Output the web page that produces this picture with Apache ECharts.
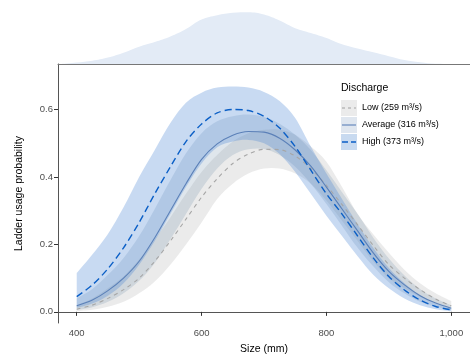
<!DOCTYPE html>
<html><head><meta charset="utf-8">
<script src="https://cdn.jsdelivr.net/npm/echarts@6/dist/echarts.min.js"></script>
<style>html,body{margin:0;padding:0;background:#fff}#c{width:470px;height:360px}</style>
</head><body><div id="c"></div>
<script>
// ---- data ----
const sizes = [400,425,450,475,500,525,550,575,600,625,650,675,700,725,750,775,800,825,850,875,900,925,950,975,1000];
const lowMean  = [0.008,0.02,0.04,0.066,0.1,0.15,0.21,0.275,0.34,0.395,0.44,0.468,0.482,0.481,0.462,0.425,0.375,0.318,0.258,0.197,0.14,0.1,0.066,0.038,0.018];
const lowLower = [0.002,0.006,0.015,0.03,0.055,0.09,0.14,0.2,0.265,0.335,0.38,0.41,0.425,0.425,0.41,0.38,0.33,0.27,0.21,0.15,0.1,0.07,0.045,0.025,0.01];
const lowUpper = [0.02,0.04,0.07,0.105,0.155,0.215,0.28,0.35,0.415,0.465,0.505,0.53,0.54,0.54,0.525,0.49,0.445,0.37,0.29,0.23,0.175,0.125,0.085,0.055,0.032];
const avgMean  = [0.018,0.035,0.063,0.1,0.15,0.22,0.3,0.38,0.452,0.498,0.524,0.535,0.533,0.515,0.48,0.432,0.37,0.305,0.24,0.175,0.12,0.08,0.048,0.026,0.011];
const avgLower = [0.006,0.014,0.03,0.055,0.092,0.145,0.215,0.29,0.365,0.425,0.465,0.482,0.483,0.465,0.43,0.38,0.32,0.255,0.19,0.135,0.088,0.055,0.03,0.015,0.005];
const avgUpper = [0.04,0.068,0.11,0.16,0.225,0.305,0.39,0.47,0.53,0.565,0.58,0.585,0.578,0.558,0.525,0.48,0.42,0.355,0.29,0.22,0.158,0.108,0.068,0.04,0.02];
const highMean = [0.045,0.08,0.128,0.19,0.265,0.35,0.43,0.505,0.557,0.59,0.6,0.597,0.58,0.545,0.49,0.42,0.35,0.29,0.225,0.16,0.105,0.065,0.035,0.016,0.006];
const highLower= [0.012,0.025,0.048,0.085,0.14,0.21,0.29,0.37,0.44,0.488,0.505,0.51,0.5,0.468,0.415,0.35,0.285,0.225,0.165,0.11,0.07,0.04,0.02,0.008,0.002];
const highUpper= [0.115,0.17,0.231,0.31,0.4,0.48,0.56,0.62,0.65,0.665,0.668,0.665,0.652,0.625,0.575,0.49,0.41,0.335,0.26,0.19,0.13,0.085,0.05,0.025,0.01];
const densX = [375,400,425,450,475,500,525,550,575,600,625,650,675,700,725,750,775,800,825,850,875,900,925,950,975,1000];
const densY = [0,1.5,3.3,6.5,11.3,17.3,22,27.5,35,44.5,48.8,51.3,51.8,49.5,43.5,35.8,31,26,19.8,15.6,11.7,7.8,4,1.8,0.2,0];
const xTicks = [400,600,800,1000];
const yTicks = [0,0.2,0.4,0.6];
const legendTitle = 'Discharge';
const legendLabels = ['Low (259 m³/s)','Average (316 m³/s)','High (373 m³/s)'];

// ---- styles ----
const FONT = 'Liberation Sans';
const lowCol = '#a6a6a6', avgCol = '#5b80b8', highCol = '#0b5fc6';
const pairs = arr => sizes.map((s,i)=>[s,arr[i]]);

// Catmull-Rom -> cubic bezier path through screen points
function curvePath(pts, moveFirst){
  let d = (moveFirst ? 'M' : 'L') + pts[0][0].toFixed(2) + ' ' + pts[0][1].toFixed(2);
  for (let i=0;i<pts.length-1;i++){
    const p0 = pts[i>0?i-1:i], p1 = pts[i], p2 = pts[i+1], p3 = pts[i+2<pts.length?i+2:i+1];
    const c1 = [p1[0]+(p2[0]-p0[0])/6, p1[1]+(p2[1]-p0[1])/6];
    const c2 = [p2[0]-(p3[0]-p1[0])/6, p2[1]-(p3[1]-p1[1])/6];
    d += ' C' + c1[0].toFixed(2)+' '+c1[1].toFixed(2)+' '+c2[0].toFixed(2)+' '+c2[1].toFixed(2)+' '+p2[0].toFixed(2)+' '+p2[1].toFixed(2);
  }
  return d;
}

function band(lower, upper, color, opacity){
  return {
    type:'custom', silent:true, xAxisIndex:0, yAxisIndex:0,
    data: sizes.map((s,i)=>[s, lower[i], upper[i]]),
    encode:{x:0, y:[1,2]},
    renderItem:function(params, api){
      if (params.dataIndex !== 0) return null;
      const up = sizes.map((s,i)=>api.coord([s, upper[i]]));
      const lo = sizes.map((s,i)=>api.coord([s, lower[i]])).reverse();
      const d = curvePath(up, true) + ' ' + curvePath(lo, false) + ' Z';
      return {type:'path', shape:{pathData:d}, style:{fill:color, opacity:opacity}};
    }
  };
}

const series = [
  band(lowLower, lowUpper, '#bcbcbc', 0.3),
  band(avgLower, avgUpper, '#60819f', 0.2),
  band(highLower, highUpper, '#4a86d4', 0.3),
  {type:'line', data:pairs(lowMean), smooth:0.3, symbol:'none', lineStyle:{color:lowCol, width:1.1, type:[4,4]}},
  {type:'line', data:pairs(avgMean), smooth:0.3, symbol:'none', lineStyle:{color:avgCol, width:1.1}},
  {type:'line', data:pairs(highMean), smooth:0.3, symbol:'none', lineStyle:{color:highCol, width:1.4, type:[7,4]}},
  {type:'line', data:densX.map((x,i)=>[x,densY[i]]), smooth:0.4, symbol:'none', xAxisIndex:1, yAxisIndex:1,
   lineStyle:{opacity:0}, areaStyle:{color:'#e3ebf6', opacity:1}}
];

const keyFill = ['#ebebeb','#dfe6ef','#c8daf0'];
const keyDash = [[3,3], null, [6,3]];
const keyCol = [lowCol, avgCol, highCol];
const graphic = [{type:'text', left:341, top:83, style:{text:legendTitle, font:'10.5px '+FONT, fill:'#000'}}];
legendLabels.forEach((t,i)=>{
  const y0 = 100 + i*17;
  graphic.push({type:'rect', shape:{x:341,y:y0,width:16,height:16}, style:{fill:keyFill[i]}});
  graphic.push({type:'line', shape:{x1:342,y1:y0+8,x2:356,y2:y0+8},
    style:{stroke:keyCol[i], lineWidth:i==2?1.4:1.1, lineDash:keyDash[i]}});
  graphic.push({type:'text', left:362, top:y0+3, style:{text:t, font:'9px '+FONT, fill:'#000'}});
});

const chart = echarts.init(document.getElementById('c'), null, {renderer:'canvas'});
chart.setOption({
  animation:false,
  backgroundColor:'#fff',
  grid:[
    {left:58, top:64, width:415.8, height:263, containLabel:false},
    {left:58, top:0, width:415.8, height:64, containLabel:false}
  ],
  xAxis:[
    {type:'value', gridIndex:0, min:370, max:1030, name:'Size (mm)', nameLocation:'middle', nameGap:21,
     nameTextStyle:{fontFamily:FONT, fontSize:10.5, color:'#000'},
     axisLine:{lineStyle:{color:'#555', width:1}},
     axisTick:{customValues:xTicks, length:4, lineStyle:{color:'#333'}},
     axisLabel:{customValues:xTicks, margin:5, fontFamily:FONT, fontSize:9.5, color:'#4d4d4d',
       formatter:v=>Number(v).toLocaleString('en-US')},
     splitLine:{show:false}},
    {type:'value', gridIndex:1, min:370, max:1030,
     axisLine:{show:true, lineStyle:{color:'#777', width:1}}, axisTick:{show:false}, axisLabel:{show:false}, splitLine:{show:false}}
  ],
  yAxis:[
    {type:'value', gridIndex:0, min:-0.033, max:0.735, name:'Ladder usage probability', nameLocation:'middle', nameGap:33,
     nameTextStyle:{fontFamily:FONT, fontSize:10.5, color:'#000'},
     axisLine:{show:true, lineStyle:{color:'#555', width:1}},
     axisTick:{show:true, customValues:yTicks, length:4, lineStyle:{color:'#333'}},
     axisLabel:{customValues:yTicks, margin:5, fontFamily:FONT, fontSize:9.5, color:'#4d4d4d', formatter:v=>Number(v).toFixed(1)},
     splitLine:{show:false}},
    {type:'value', gridIndex:1, min:0, max:64, show:false}
  ],
  series: series,
  graphic: graphic
});
</script></body></html>
